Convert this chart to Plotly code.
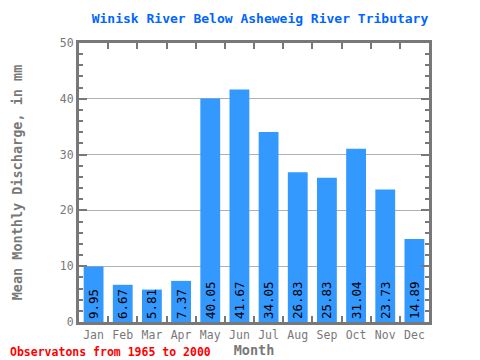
import plotly.graph_objects as go

months = ["Jan", "Feb", "Mar", "Apr", "May", "Jun", "Jul", "Aug", "Sep", "Oct", "Nov", "Dec"]
discharge = [9.95, 6.67, 5.81, 7.37, 40.05, 41.67, 34.05, 26.83, 25.83, 31.04, 23.73, 14.89]
labels = [f"{v:.2f}" for v in discharge]

MONO = "DejaVu Sans Mono"
GRAY = "#787878"
OFF = 8  # page body margin
W, H = 480 - OFF, 360 - OFF

fig = go.Figure()
fig.add_trace(go.Bar(
    x=months, y=discharge, text=labels,
    textposition="inside", insidetextanchor="start", textangle=-90,
    constraintext="none", cliponaxis=False,
    textfont=dict(family=MONO, size=12.5, color="black"),
    marker=dict(color="#3399ff", line=dict(width=0)),
    width=0.68,
))

fig.update_layout(
    width=W, height=H,
    margin=dict(l=79 - OFF, r=51, t=43 - OFF, b=38, autoexpand=False),
    plot_bgcolor="white", paper_bgcolor="white",
    showlegend=False,
    title=dict(text="<b>Winisk River Below Asheweig River Tributary</b>",
               font=dict(family=MONO, size=13, color="#0066ff"),
               x=(260 - OFF) / W, xref="container", xanchor="center",
               y=1 - (18 - OFF) / H, yanchor="middle"),
    font=dict(family=MONO, color=GRAY),
)
fig.update_xaxes(
    type="category", tickson="boundaries", ticks="inside", ticklen=6, tickwidth=2,
    tickcolor=GRAY, showline=True, linecolor=GRAY, linewidth=3, mirror="ticks",
    showgrid=False, tickangle=0, automargin=False,
    tickfont=dict(family=MONO, size=11.5, color=GRAY),
    title=dict(text="<b>Month</b>", font=dict(family=MONO, size=13.5, color=GRAY), standoff=0),
)
fig.update_yaxes(
    range=[0, 50], dtick=10, ticks="inside", ticklen=8, tickwidth=2, tickcolor=GRAY,
    minor=dict(dtick=2, ticks="inside", ticklen=4, tickwidth=2, tickcolor=GRAY, showgrid=False),
    showline=True, linecolor=GRAY, linewidth=3, mirror="ticks", automargin=False,
    showgrid=True, gridcolor="#b0b0b0", gridwidth=1, zeroline=False,
    tickfont=dict(family=MONO, size=11.5, color=GRAY),
    title=dict(text="<b>Mean Monthly Discharge, in mm</b>", font=dict(family=MONO, size=13.5, color=GRAY), standoff=35),
)
fig.add_annotation(
    text="<b>Observatons from 1965 to 2000</b>", xref="paper", yref="paper",
    x=-(79 - OFF) / 350, y=-30 / 279, xanchor="left", yanchor="middle", showarrow=False,
    font=dict(family=MONO, size=11.5, color="#ff0000"),
)
fig.write_html("out.html")
